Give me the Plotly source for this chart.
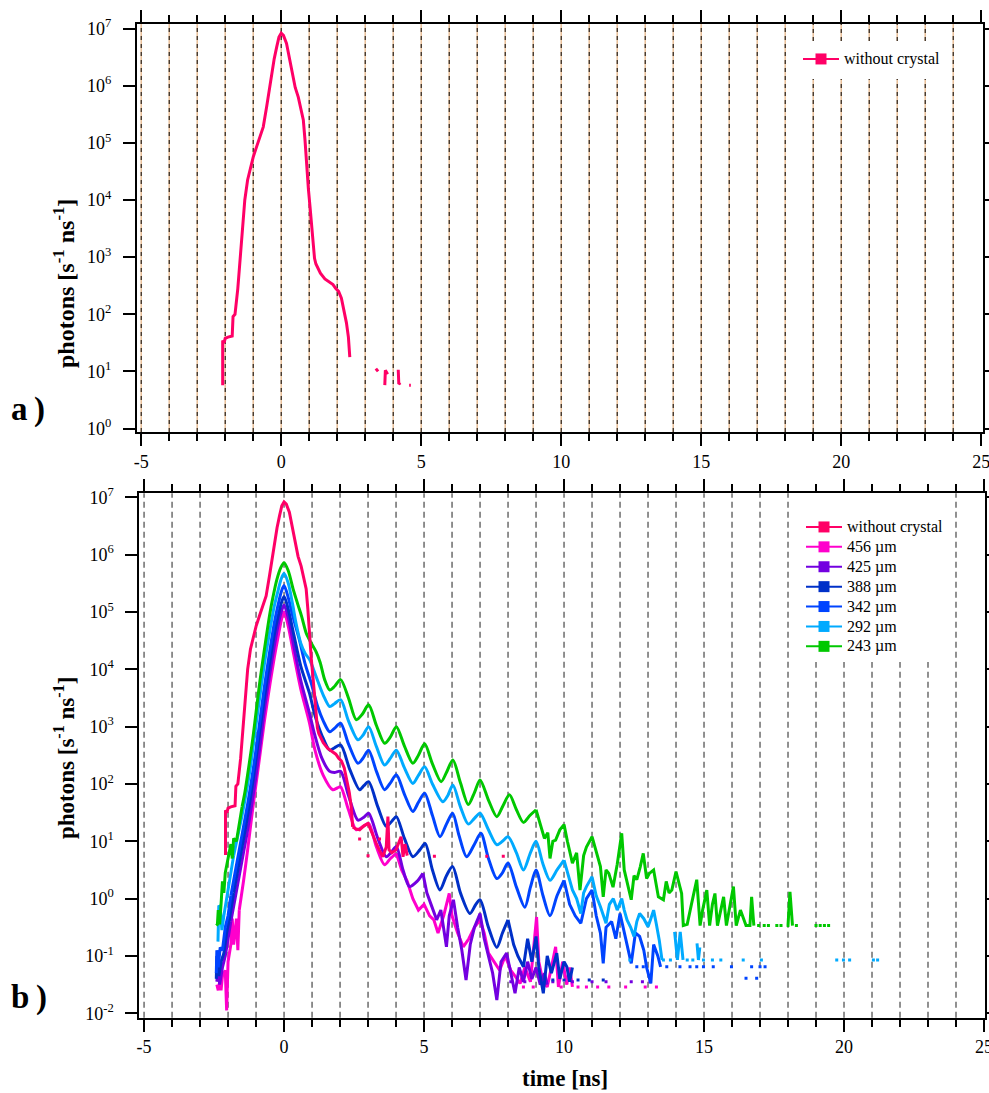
import plotly.graph_objects as go

FONT = "Liberation Serif, Times New Roman, serif"

# ---------------- data (log10 of photons [s^-1 ns^-1]) ----------------
# without crystal (shared by both panels)
P0_T = [-2.09,-2.09,-2.04,-2.0,-1.9,-1.75,-1.72,-1.65,-1.55,-1.45,-1.38,-1.30,-1.2,-1.12,-1.0,-0.88,-0.75,-0.64,-0.52,-0.42,
        -0.34,-0.25,-0.16,-0.08,0.0,0.08,0.19,0.3,0.41,0.5,0.61,0.7,0.79,0.85,0.91,0.97,1.03,1.09,1.14,1.19,
        1.24,1.4,1.56,1.74,1.85,1.95,2.05,2.15,2.25,2.33,2.4,2.45]
P0_L = [0.76,1.54,1.50,1.58,1.60,1.62,1.96,2.0,2.45,3.05,3.5,4.0,4.35,4.52,4.75,4.93,5.1,5.28,5.63,5.95,
        6.21,6.47,6.68,6.85,6.92,6.88,6.74,6.45,6.15,5.97,5.80,5.6,5.40,5.05,4.58,4.2,3.88,3.5,3.18,2.98,
        2.88,2.72,2.62,2.55,2.52,2.45,2.4,2.28,2.05,1.85,1.6,1.25]
P0_TOP_FRAG_T = [3.38,3.46,None,3.70,3.72,3.80,None,4.18,4.20,4.26,None,4.57,4.63]
P0_TOP_FRAG_L = [1.05,1.0,None,0.76,1.02,0.95,None,1.03,0.78,0.8,None,0.76,0.76]
P0_BOT_T = [2.45,2.55,2.7,2.85,3.0,3.15,3.29,3.4,3.53,3.65,3.71,3.75,3.85,4.0,4.1,4.18,4.25,4.32,4.4]
P0_BOT_L = [1.25,1.22,1.2,1.27,1.31,1.15,0.97,0.85,0.73,0.9,1.43,0.85,0.8,0.85,1.0,1.08,0.73,0.95,0.75]
P0_DOT_T = [2.7,3.0,3.41,5.37,7.24,7.83]
P0_DOT_L = [1.04,0.75,1.04,0.74,0.74,0.74]

# 456 um
M_RISE_T = [-2.4,-2.35,-2.3,-2.25,-2.2,-2.1,-2.05,-2.0,-1.9,-1.85,-1.8,-1.7,-1.65,-1.6]
M_RISE_L = [-1.5,-1.6,-1.45,-1.6,-1.35,-1.25,-1.95,-1.1,-0.8,-0.35,-0.8,-0.35,-0.9,-0.2]
M_MAIN_T = [-1.6,-1.45,-1.3,-1.15,-1.0,-0.85,-0.7,-0.5,-0.35,-0.2,-0.1,0,0.15,0.35,0.6,0.91,1.1,1.4,1.74,1.9,
            2.02,2.3,2.58,2.8,3.02,3.3,3.59,3.8,4.01]
M_MAIN_L = [-0.2,0.3,0.85,1.45,2.0,2.55,3.1,3.75,4.2,4.6,4.85,5.0,4.75,4.25,3.65,3.06,2.6,2.15,1.90,1.93,
            1.95,1.55,1.20,1.25,1.31,0.9,0.59,0.7,0.79]
M_TAIL_T = [4.01,4.2,4.4,4.6,4.8,5.0,5.2,5.35,5.5,5.7,5.9,6.0,6.2,6.4,6.6,6.8,7.0,7.15,7.3,7.5,
            7.7,7.9,8.1,8.25,8.43,8.6,8.8,9.02,9.1,9.25,9.4,9.55,9.7,9.8,9.95,10.1,10.2,10.3]
M_TAIL_L = [0.79,0.5,0.3,0.0,-0.2,-0.1,-0.3,-0.37,-0.6,-0.3,0.09,-0.3,-0.6,-0.84,-0.7,-0.5,-0.37,-0.6,-0.95,-1.1,
            -1.25,-1.0,-1.25,-1.35,-1.48,-1.2,-1.45,-0.32,-1.1,-1.45,-1.54,-1.2,-0.84,-1.54,-1.1,-1.5,-1.2,-1.54]
M_DOT_T = [8.55,8.9,9.9,10.5,10.8,11.2,11.6,12.2,12.9,13.3]
M_DOT_L = [-1.54]*10

# 425 um
V_RISE_T = [-2.4,-2.35,-2.3,-2.2,-2.1,-2.0,-1.9]
V_RISE_L = [-1.45,-1.2,-1.5,-1.2,-1.0,-0.7,-0.4]
V_MAIN_T = [-1.9,-1.75,-1.6,-1.45,-1.3,-1.15,-1.0,-0.85,-0.7,-0.5,-0.35,-0.2,-0.1,0,0.15,0.35,0.6,0.91,1.1,1.35,
            1.63,1.8,2.02,2.3,2.64,2.85,3.02,3.35,3.65,3.85,4.01,4.25,4.48,4.75,4.96]
V_MAIN_L = [-0.4,0.0,0.4,0.8,1.2,1.65,2.15,2.7,3.3,3.95,4.4,4.8,5.0,5.12,4.9,4.4,3.8,3.23,2.85,2.45,
            2.22,2.2,2.22,1.8,1.37,1.42,1.49,1.05,0.73,0.82,0.91,0.5,0.21,0.3,0.44]
V_TAIL_T = [4.96,5.1,5.25,5.45,5.6,5.8,5.9,6.05,6.2,6.35,6.5,6.65,6.8,7.0,7.15,7.3,7.45,7.6,7.75,7.95,
            8.1,8.25,8.4,8.55,8.7,8.85,9.0,9.15,9.3,9.4]
V_TAIL_L = [0.44,0.1,-0.1,-0.37,-0.2,-0.84,-0.3,-0.02,-0.5,-0.9,-1.42,-0.8,-0.5,-0.26,-0.7,-1.0,-1.3,-1.77,-1.1,-0.95,
            -1.3,-1.65,-1.2,-1.45,-1.1,-1.4,-1.2,-1.5,-1.3,-1.5]
V_DOT_T = [8.1,8.6,9.6,10.3,11.0,11.5,12.4,12.8,13.07]
V_DOT_L = [-1.45]*9

# 388 um
DB_RISE_T = [-2.42,-2.4,-2.33,-2.25,-2.15,-2.05,-1.95,-1.8]
DB_RISE_L = [-1.4,-1.0,-1.35,-1.1,-0.95,-0.6,-0.35,0.1]
DB_MAIN_T = [-1.8,-1.65,-1.5,-1.35,-1.2,-1.05,-0.9,-0.7,-0.5,-0.35,-0.2,-0.1,0,0.15,0.35,0.6,0.91,1.1,1.35,1.63,
             1.8,2.02,2.35,2.7,2.85,3.02,3.35,3.65,3.85,4.01,4.3,4.6,4.85,5.04,5.3,5.57,5.8,6.02,6.3,6.64,
             6.85,7.0,7.3,7.6,7.8,8.0]
DB_MAIN_L = [0.1,0.5,0.9,1.3,1.75,2.25,2.8,3.5,4.15,4.6,4.95,5.15,5.27,5.05,4.6,4.05,3.58,3.2,2.85,2.59,
             2.63,2.68,2.25,1.90,1.97,2.04,1.6,1.26,1.35,1.43,1.05,0.73,0.85,0.96,0.5,0.15,0.4,0.56,0.1,-0.26,
             -0.1,-0.02,-0.5,-0.85,-0.6,-0.37]
DB_TAIL_T = [8.0,8.2,8.35,8.55,8.7,8.85,9.0,9.1,9.26,9.4,9.55,9.74,9.85,10.0,10.1,10.2,10.3]
DB_TAIL_L = [-0.37,-0.8,-1.0,-1.19,-0.7,-1.1,-0.66,-1.2,-1.65,-1.0,-1.3,-0.95,-1.4,-1.1,-1.19,-1.45,-1.2]
DB_DOT_T = [9.6,10.0,10.5,10.9,11.4]
DB_DOT_L = [-1.42]*5

# 342 um
B_RISE_T = [-2.42,-2.4,-2.35,-2.28,-2.2,-2.1,-2.0,-1.9]
B_RISE_L = [-1.3,-0.9,-1.2,-0.85,-0.9,-0.5,-0.3,0.05]
B_MAIN_T = [-1.9,-1.75,-1.6,-1.45,-1.3,-1.15,-1.0,-0.85,-0.7,-0.5,-0.35,-0.2,-0.1,0,0.15,0.3,0.55,0.75,0.97,1.2,
            1.4,1.63,1.8,2.02,2.3,2.64,2.82,3.02,3.3,3.59,3.8,4.01,4.3,4.6,4.8,5.02,5.3,5.57,5.8,6.02,
            6.25,6.52,6.8,7.03,7.3,7.6,7.8,8.0,8.3,8.6,8.8,9.0,9.25,9.5,9.75,10.0]
B_MAIN_L = [0.05,0.45,0.85,1.25,1.65,2.1,2.6,3.15,3.7,4.35,4.8,5.15,5.35,5.46,5.25,4.95,4.51,4.1,3.76,3.35,
            3.1,2.91,2.97,3.06,2.7,2.36,2.45,2.59,2.22,1.90,2.02,2.16,1.82,1.52,1.68,1.84,1.45,1.08,1.3,1.49,
            1.1,0.73,0.95,1.14,0.7,0.35,0.45,0.62,0.2,-0.15,0.2,0.5,0.05,-0.3,0.05,0.32]
B_TAIL_T = [10.0,10.2,10.4,10.6,10.8,11.0,11.15,11.3,11.4,11.5,11.7,11.85,12.0,12.15,12.3,12.4,12.55,12.7,12.85,12.95,
            13.1,13.2,13.35,13.45]
B_TAIL_L = [0.32,-0.1,-0.3,-0.43,0.0,0.15,-0.3,-0.6,-1.13,-0.5,-0.4,-0.7,-0.26,-0.6,-0.9,-1.13,-0.6,-0.66,-0.9,-1.2,
            -1.48,-0.8,-1.0,-1.19]
B_DOT_T = [12.6,12.83,13.67,14.14,14.5,14.74,14.98,15.33,15.98,16.5,16.7,16.88,17.0,17.18]
B_DOT_L = [-1.19,-1.19,-1.19,-1.19,-1.19,-1.19,-1.19,-1.19,-1.19,-1.39,-1.19,-1.39,-1.19,-1.19]

# 292 um
LB_RISE_T = [-2.36,-2.33,-2.28,-2.22,-2.15,-2.05,-1.95,-1.8]
LB_RISE_L = [-0.75,-0.12,-0.15,-0.55,-0.3,0.0,0.35,0.75]
LB_MAIN_T = [-1.8,-1.65,-1.5,-1.35,-1.2,-1.05,-0.9,-0.7,-0.5,-0.35,-0.2,-0.1,0,0.15,0.3,0.43,0.6,0.75,0.91,1.05,
             1.2,1.4,1.63,1.8,2.02,2.3,2.64,2.82,3.02,3.3,3.59,3.8,4.01,4.3,4.6,4.8,5.02,5.3,5.67,5.85,
             6.03,6.3,6.58,6.8,7.0,7.3,7.6,7.8,8.0,8.3,8.55,8.8,9.0,9.25,9.5,9.75,10.0]
LB_MAIN_L = [0.75,1.1,1.45,1.85,2.3,2.85,3.4,4.1,4.7,5.1,5.4,5.58,5.67,5.5,5.15,4.8,4.45,4.28,4.17,4.0,
             3.8,3.55,3.35,3.4,3.47,3.1,2.77,2.85,3.0,2.65,2.33,2.45,2.59,2.28,2.01,2.15,2.30,2.0,1.69,1.8,
             1.98,1.6,1.3,1.4,1.49,1.2,0.94,1.0,1.08,0.8,0.5,0.8,1.0,0.6,0.32,0.5,0.67]
LB_TAIL_T = [10.0,10.15,10.3,10.45,10.6,10.7,10.8,11.0,11.15,11.3,11.4,11.5,11.62,11.76,11.9,12.06,12.15,12.25,12.38,12.5,
             12.6,12.7,12.85,13.0,13.1,13.2,13.3,13.4,13.5,None,13.95,14.05,14.15,14.25,None,14.75,14.8,14.85]
LB_TAIL_L = [0.67,0.4,0.15,0.0,-0.26,0.1,0.21,0.38,0.05,-0.14,-0.3,-0.43,-0.1,0.0,-0.2,0.0,-0.2,-0.37,-0.5,-0.66,
             -0.4,-0.26,-0.35,-0.49,-0.35,-0.2,-0.45,-0.72,-1.07,None,-0.58,-1.07,-0.58,-1.07,None,-0.78,-1.07,-0.85]
LB_DOT_T = [12.35,13.55,13.8,14.4,14.6,14.98,15.3,15.6,16.4,17.05,19.74,19.98,20.2,21.05,21.2]
LB_DOT_L = [-1.07]*15

# 243 um
G_RISE_T = [-2.42,-2.38,-2.35,-2.3,-2.25,-2.2,-2.15,-2.1,-2.0,-1.9,-1.85,-1.8,-1.7,-1.6,-1.5]
G_RISE_L = [-0.47,-0.45,-0.2,-0.45,-0.1,0.3,0.1,0.45,0.7,0.95,0.7,1.05,1.0,1.3,1.6]
G_MAIN_T = [-1.5,-1.4,-1.33,-1.2,-1.1,-1.0,-0.86,-0.7,-0.5,-0.4,-0.26,-0.12,0,0.15,0.33,0.5,0.63,0.8,0.99,1.15,
            1.29,1.45,1.63,1.8,2.02,2.3,2.58,2.8,3.02,3.3,3.59,3.8,4.01,4.3,4.6,4.8,5.02,5.3,5.61,5.8,
            6.03,6.3,6.58,6.8,7.0,7.3,7.6,7.82,8.05,8.3,8.55,8.78,9.0]
G_MAIN_L = [1.6,1.85,2.07,2.5,2.85,3.25,3.8,4.35,4.99,5.25,5.56,5.77,5.86,5.72,5.39,5.12,4.92,4.62,4.44,4.3,
            4.12,3.82,3.64,3.7,3.82,3.5,3.12,3.22,3.38,3.02,2.71,2.82,3.0,2.66,2.36,2.5,2.70,2.35,2.04,2.2,
            2.42,2.02,1.64,1.85,2.07,1.72,1.43,1.62,1.81,1.55,1.33,1.45,1.55]
G_TAIL_T = [9.0,9.15,9.3,9.42,9.5,9.6,9.7,9.85,10.0,10.12,10.3,10.45,10.57,10.7,10.8,11.0,11.15,11.3,11.4,11.5,
            11.6,11.75,11.9,12.06,12.15,12.25,12.4,12.5,12.6,12.72,12.83,12.95,13.05,13.2,13.3,13.37,13.55,13.65,13.75,13.85,
            14.0,14.1,14.2,14.26,14.4,14.55,14.65,14.74,14.86,14.95,15.1,15.2,15.3,15.39,15.48,15.6,15.7,15.8,15.95,16.05,
            16.15,16.3,16.5,16.64,16.7,16.78,None,17.95,18.0,18.07,18.16]
G_TAIL_L = [1.55,1.3,1.05,1.15,0.7,1.0,1.02,1.2,1.29,1.0,0.62,0.8,0.15,0.75,0.9,1.08,0.8,0.56,0.03,0.5,
            0.44,0.2,0.6,1.14,0.5,0.3,-0.02,0.4,0.33,0.55,0.79,0.35,0.44,0.5,0.2,0.03,-0.02,0.3,0.1,0.15,
            0.47,0.25,0.09,-0.47,-0.45,-0.1,0.1,0.33,-0.47,-0.2,0.15,-0.47,-0.1,0.09,-0.47,-0.2,0.03,-0.47,-0.1,0.21,
            -0.47,-0.2,-0.47,-0.47,0.03,-0.47,None,-0.47,-0.47,0.12,-0.47]
G_DOT_T = [16.95,17.15,17.3,17.6,17.75,18.3,19.0,19.15,19.3,19.45]
G_DOT_L = [-0.47]*10

SERIES = [
    # name, color, rise, main, tail, dots
    ("456 \u00b5m", "#ff00cc", (M_RISE_T, M_RISE_L), (M_MAIN_T, M_MAIN_L), (M_TAIL_T, M_TAIL_L), (M_DOT_T, M_DOT_L)),
    ("425 \u00b5m", "#7300e0", (V_RISE_T, V_RISE_L), (V_MAIN_T, V_MAIN_L), (V_TAIL_T, V_TAIL_L), (V_DOT_T, V_DOT_L)),
    ("388 \u00b5m", "#0030c8", (DB_RISE_T, DB_RISE_L), (DB_MAIN_T, DB_MAIN_L), (DB_TAIL_T, DB_TAIL_L), (DB_DOT_T, DB_DOT_L)),
    ("342 \u00b5m", "#0044ff", (B_RISE_T, B_RISE_L), (B_MAIN_T, B_MAIN_L), (B_TAIL_T, B_TAIL_L), (B_DOT_T, B_DOT_L)),
    ("292 \u00b5m", "#00aaff", (LB_RISE_T, LB_RISE_L), (LB_MAIN_T, LB_MAIN_L), (LB_TAIL_T, LB_TAIL_L), (LB_DOT_T, LB_DOT_L)),
    ("243 \u00b5m", "#00c800", (G_RISE_T, G_RISE_L), (G_MAIN_T, G_MAIN_L), (G_TAIL_T, G_TAIL_L), (G_DOT_T, G_DOT_L)),
]
PINK = "#ff0066"
LEGEND_NAMES = ["without crystal", "456 \u00b5m", "425 \u00b5m", "388 \u00b5m", "342 \u00b5m", "292 \u00b5m", "243 \u00b5m"]
LEGEND_COLORS = [PINK, "#ff00cc", "#7300e0", "#0030c8", "#0044ff", "#00aaff", "#00c800"]

XTICK_VALS = [-5, 0, 5, 10, 15, 20, 25]
XTICK_TEXT = ["-5", "0", "5", "10", "15", "20", "25"]
XMINOR_VALS = list(range(-5, 26))
YTOP_EXP = [0, 1, 2, 3, 4, 5, 6, 7]
YBOT_EXP = [-2, -1, 0, 1, 2, 3, 4, 5, 6, 7]
GRID_TIMES = list(range(-5, 25))


def to_photons(logs):
    return [None if v is None else 10 ** v for v in logs]


W, H = 989, 1093


def px_x(p):
    return p / W


def px_y(p):
    return 1 - p / H


def leg_label(s):
    return '<span style="font-size:16px">%s</span>' % s


fig = go.Figure()

LW = 3
# ---------- top panel ----------
fig.add_trace(go.Scatter(x=P0_T, y=to_photons(P0_L), mode="lines", line=dict(color=PINK, width=LW),
                         xaxis="x", yaxis="y", showlegend=False, connectgaps=False))
fig.add_trace(go.Scatter(x=P0_TOP_FRAG_T, y=to_photons(P0_TOP_FRAG_L), mode="lines", line=dict(color=PINK, width=LW),
                         xaxis="x", yaxis="y", showlegend=False, connectgaps=False))

# ---------- bottom panel ----------
for name, color, rise, main, tail, dots in SERIES:
    fig.add_trace(go.Scatter(x=rise[0], y=to_photons(rise[1]), mode="lines", line=dict(color=color, width=LW),
                             xaxis="x2", yaxis="y2", showlegend=False))
    fig.add_trace(go.Scatter(x=main[0], y=to_photons(main[1]), mode="lines",
                             line=dict(color=color, width=LW, shape="spline", smoothing=0.8),
                             xaxis="x2", yaxis="y2", showlegend=False))
    fig.add_trace(go.Scatter(x=tail[0], y=to_photons(tail[1]), mode="lines", line=dict(color=color, width=LW),
                             xaxis="x2", yaxis="y2", showlegend=False, connectgaps=False))
    fig.add_trace(go.Scatter(x=dots[0], y=to_photons(dots[1]), mode="markers",
                             marker=dict(color=color, size=3, symbol="square"),
                             xaxis="x2", yaxis="y2", showlegend=False))

fig.add_trace(go.Scatter(x=P0_T, y=to_photons(P0_L), mode="lines", line=dict(color=PINK, width=LW),
                         xaxis="x2", yaxis="y2", showlegend=False))
fig.add_trace(go.Scatter(x=P0_BOT_T, y=to_photons(P0_BOT_L), mode="lines", line=dict(color=PINK, width=LW),
                         xaxis="x2", yaxis="y2", showlegend=False))
fig.add_trace(go.Scatter(x=P0_DOT_T, y=to_photons(P0_DOT_L), mode="markers",
                         marker=dict(color=PINK, size=3, symbol="square"),
                         xaxis="x2", yaxis="y2", showlegend=False))

# ---------- legend entries ----------
fig.add_trace(go.Scatter(x=[None], y=[None], mode="lines+markers", name=leg_label("without crystal"),
                         line=dict(color=PINK, width=2), marker=dict(color=PINK, size=11, symbol="square"),
                         xaxis="x", yaxis="y", legend="legend"))
for nm, col in zip(LEGEND_NAMES, LEGEND_COLORS):
    fig.add_trace(go.Scatter(x=[None], y=[None], mode="lines+markers", name=leg_label(nm),
                             line=dict(color=col, width=2), marker=dict(color=col, size=11, symbol="square"),
                             xaxis="x2", yaxis="y2", legend="legend2"))

# ---------- axes ----------
tickfont = dict(family=FONT, size=18, color="black")


def xcfg(domain, rng, anchor):
    return dict(domain=domain, range=rng, anchor=anchor, showline=True, linewidth=2, linecolor="black",
                mirror="ticks", ticks="outside", ticklen=12, tickwidth=1.5, tickcolor="black",
                tickmode="array", tickvals=XTICK_VALS, ticktext=XTICK_TEXT, tickfont=tickfont,
                showgrid=False, zeroline=False, ticklabelstandoff=0, automargin=False,
                ticklabeloverflow="allow",
                minor=dict(ticks="outside", ticklen=7, tickwidth=1.5, tickcolor="black",
                           tickmode="array", tickvals=XMINOR_VALS, showgrid=False))


def ycfg(domain, rng, anchor, exps):
    return dict(domain=domain, range=rng, anchor=anchor, type="log", showline=True, linewidth=2,
                linecolor="black", mirror="ticks", ticks="outside", ticklen=12, tickwidth=1.5,
                tickcolor="black", tickmode="array", tickvals=[10 ** e for e in exps],
                ticktext=["10<sup>%d</sup>" % e for e in exps], tickfont=tickfont,
                showgrid=False, zeroline=False, ticklabelstandoff=8, automargin=False,
                ticklabeloverflow="allow")


top_y0, top_y1 = 24, 432
bot_y0, bot_y1 = 493.3, 1017.7

fig.update_layout(
    width=W, height=H, margin=dict(l=0, r=0, t=0, b=0, pad=0, autoexpand=False),
    paper_bgcolor="white", plot_bgcolor="rgba(0,0,0,0)",
    xaxis=xcfg([px_x(137), px_x(982.6)], [-5.15, 25.05], "y"),
    yaxis=ycfg([px_y(top_y1), px_y(top_y0)], [-0.06, 7.08], "x", YTOP_EXP),
    xaxis2=xcfg([px_x(139.3), px_x(985.4)], [-5.17, 25.05], "y2"),
    yaxis2=ycfg([px_y(bot_y1), px_y(bot_y0)], [-2.077, 7.07], "x2", YBOT_EXP),
    legend=dict(x=px_x(798), y=px_y(44), xanchor="left", yanchor="top", bgcolor="rgba(0,0,0,0)",
                font=dict(family=FONT, size=13, color="black"), itemwidth=36, tracegroupgap=0),
    legend2=dict(x=px_x(801), y=px_y(512), xanchor="left", yanchor="top", bgcolor="rgba(0,0,0,0)",
                 font=dict(family=FONT, size=13, color="black"), itemwidth=36, tracegroupgap=0),
    showlegend=True,
)

# ---------- dashed vertical lines ----------
shapes = []
top_gap = ((top_y1 - 79) / (top_y1 - top_y0), (top_y1 - 41) / (top_y1 - top_y0))
bot_gap = (bot_y1 - 662) / (bot_y1 - bot_y0)
for k in GRID_TIMES:
    segs = [(0, 1)] if not (19 <= k <= 23) else [(0, top_gap[0]), (top_gap[1], 1)]
    for a, b in segs:
        shapes.append(dict(type="line", xref="x", yref="y domain", x0=k, x1=k, y0=a, y1=b, layer="below",
                           line=dict(color="#e9bf98", width=1.5)))
        shapes.append(dict(type="line", xref="x", yref="y domain", x0=k, x1=k, y0=a, y1=b, layer="below",
                           line=dict(color="black", width=1, dash="4px,4px")))
    b2 = 1 if not (19 <= k <= 23) else bot_gap
    shapes.append(dict(type="line", xref="x2", yref="y2 domain", x0=k, x1=k, y0=0, y1=b2, layer="below",
                       line=dict(color="#555555", width=1.3, dash="6px,4px")))
fig.update_layout(shapes=shapes)

# ---------- annotations ----------
ytitle = "<b>photons [s<sup>-1</sup> ns<sup>-1</sup>]</b>"
ann = [
    dict(text=ytitle, x=px_x(64), y=px_y(284), xref="paper", yref="paper", showarrow=False, textangle=-90,
         xanchor="center", yanchor="middle", font=dict(family=FONT, size=24, color="black")),
    dict(text=ytitle, x=px_x(64), y=px_y(758), xref="paper", yref="paper", showarrow=False, textangle=-90,
         xanchor="center", yanchor="middle", font=dict(family=FONT, size=23, color="black")),
    dict(text="<b>time [ns]</b>", x=px_x(565), y=0.0, xref="paper", yref="paper", showarrow=False,
         xanchor="center", yanchor="bottom", font=dict(family=FONT, size=23, color="black")),
    dict(text="<b>a\u2009)</b>", x=px_x(9), y=px_y(409), xref="paper", yref="paper", showarrow=False,
         xanchor="left", yanchor="middle", font=dict(family=FONT, size=33, color="black")),
    dict(text="<b>b\u2009)</b>", x=px_x(9), y=px_y(997), xref="paper", yref="paper", showarrow=False,
         xanchor="left", yanchor="middle", font=dict(family=FONT, size=33, color="black")),
]
fig.update_layout(annotations=ann)

fig.write_html("out.html")
